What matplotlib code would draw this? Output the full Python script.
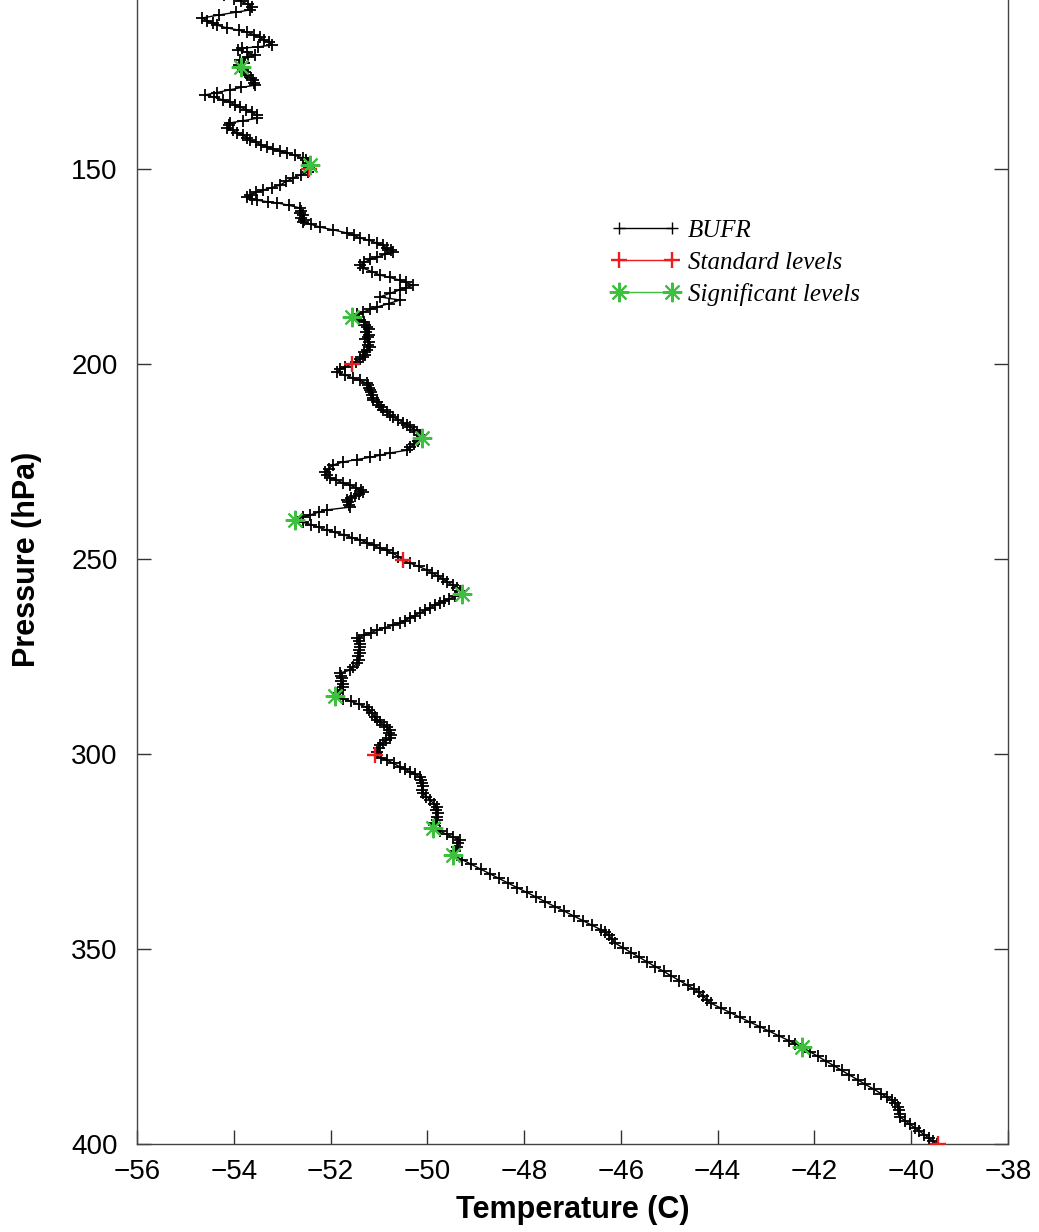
import matplotlib
matplotlib.use("Agg")
import matplotlib.pyplot as plt

# ---------------- data ----------------
bufr_p = [
    105.5, 106.3, 107.0, 107.8, 108.5, 109.2, 109.8, 110.5, 111.3, 112.0,
    112.6, 113.1, 113.8, 114.4, 114.9, 115.6, 116.2, 116.9, 117.5, 118.2,
    118.7, 119.0, 119.5, 120.1, 120.8, 121.4, 122.1, 122.7, 123.3, 123.9,
    124.6, 125.2, 125.9, 126.6, 127.2, 127.9, 128.5, 129.1, 129.7, 130.4,
    131.0, 131.6, 132.3, 132.9, 133.5, 134.1, 134.8, 135.5, 136.2, 137.0,
    137.6, 138.2, 138.8, 139.5, 140.1, 140.8, 141.4, 142.0, 142.6, 143.2,
    143.8, 144.4, 144.9, 145.4, 145.9, 146.5, 147.2, 147.8, 148.4, 149.0,
    149.5, 150.0, 150.8, 151.5, 152.3, 153.2, 154.1, 154.8, 155.4, 156.0,
    156.7, 157.2, 157.6, 158.0, 158.4, 158.7, 159.3, 160.0, 160.7, 161.3,
    161.9, 162.5, 163.0, 163.6, 164.2, 164.9, 165.6, 166.4, 167.0, 167.7,
    168.3, 169.0, 169.6, 170.3, 170.8, 171.3, 171.9, 172.6, 173.2, 173.9,
    174.6, 175.4, 176.3, 177.2, 177.8, 178.5, 179.1, 179.8, 180.4, 181.0,
    181.9, 182.8, 183.6, 184.5, 185.4, 186.0, 186.7, 187.3, 188.0, 188.6,
    189.2, 189.9, 190.5, 191.1, 191.8, 192.5, 193.1, 193.7, 194.4, 195.0,
    195.6, 196.3, 196.9, 197.6, 198.2, 198.8, 199.4, 200.0, 200.7, 201.4,
    202.1, 202.8, 203.6, 204.2, 204.9, 205.5, 206.1, 206.7, 207.3, 208.0,
    208.6, 209.2, 209.8, 210.5, 211.1, 211.8, 212.4, 213.0, 213.6, 214.3,
    215.0, 215.6, 216.2, 216.8, 217.4, 218.2, 219.0, 219.8, 220.5, 221.3,
    222.1, 222.8, 223.4, 223.9, 224.5, 225.1, 225.9, 226.8, 227.7, 228.4,
    229.2, 229.8, 230.5, 231.1, 231.7, 232.3, 232.8, 233.3, 233.9, 234.4,
    234.9, 235.5, 236.1, 236.7, 237.4, 238.0, 238.7, 239.3, 240.0, 240.6,
    241.2, 241.9, 242.6, 243.2, 243.8, 244.5, 245.1, 245.8, 246.5, 247.2,
    247.8, 248.5, 249.4, 250.3, 251.1, 251.9, 252.8, 253.6, 254.4, 255.1,
    255.9, 256.7, 257.4, 258.2, 259.0, 259.6, 260.2, 260.7, 261.3, 261.9,
    262.5, 263.2, 263.8, 264.5, 265.1, 265.8, 266.4, 267.0, 267.6, 268.2,
    268.9, 269.6, 270.3, 271.1, 271.8, 272.6, 273.3, 274.1, 274.9, 275.8,
    276.7, 277.6, 278.5, 279.2, 279.9, 280.6, 281.3, 282.0, 282.8, 283.6,
    284.3, 285.1, 285.8, 286.5, 287.2, 288.0, 288.8, 289.6, 290.4, 291.3,
    291.9, 292.6, 293.2, 293.9, 294.6, 295.2, 295.9, 296.5, 297.1, 297.7,
    298.5, 299.4, 300.3, 301.0, 301.6, 302.4, 303.3, 303.9, 304.6, 305.2,
    305.9, 306.7, 307.5, 308.3, 309.2, 310.0, 310.9, 311.8, 312.7, 313.6,
    314.4, 315.2, 316.1, 316.9, 317.6, 318.3, 319.0, 319.8, 320.6, 321.3,
    322.1, 322.9, 323.8, 324.8, 325.9, 327.1, 328.3, 329.5, 330.7, 331.9,
    333.1, 334.3, 335.5, 336.7, 337.9, 339.1, 340.3, 341.5, 342.7, 343.9,
    345.0, 345.6, 346.5, 347.5, 348.5, 349.7, 350.9, 352.1, 353.3, 354.5,
    355.7, 356.9, 358.1, 359.3, 360.2, 361.0, 362.0, 363.0, 363.9, 365.1,
    366.3, 367.5, 368.7, 369.9, 371.1, 372.3, 373.5, 374.3, 375.1, 376.3,
    377.5, 378.7, 379.9, 381.1, 382.3, 383.5, 384.7, 385.9, 387.1, 388.0,
    388.7, 389.6, 390.5, 391.3, 392.2, 393.1, 394.0, 394.9, 395.8, 396.7,
    397.6, 398.5, 399.3, 400.0,
]
bufr_t = [
    -54.20, -54.00, -53.85, -53.70, -53.62, -53.66, -53.95, -54.30, -54.66, -54.55,
    -54.42, -54.35, -54.15, -53.90, -53.73, -53.58, -53.46, -53.38, -53.28, -53.21,
    -53.50, -53.83, -53.91, -53.72, -53.56, -53.70, -53.87, -53.78, -53.90, -53.85,
    -53.80, -53.76, -53.73, -53.65, -53.60, -53.58, -53.56, -53.85, -54.08, -54.35,
    -54.59, -54.40, -54.22, -54.08, -53.98, -53.87, -53.75, -53.62, -53.52, -53.52,
    -53.80, -54.08, -54.10, -54.14, -54.02, -53.93, -53.80, -53.72, -53.66, -53.54,
    -53.43, -53.31, -53.18, -53.05, -52.90, -52.74, -52.57, -52.50, -52.46, -52.42,
    -52.44, -52.45, -52.47, -52.62, -52.78, -52.92, -53.04, -53.22, -53.40, -53.54,
    -53.66, -53.73, -53.62, -53.52, -53.30, -53.10, -52.86, -52.63, -52.62, -52.63,
    -52.58, -52.62, -52.56, -52.57, -52.40, -52.22, -51.95, -51.66, -51.52, -51.39,
    -51.20, -51.04, -50.92, -50.83, -50.76, -50.71, -50.88, -51.04, -51.18, -51.30,
    -51.39, -51.33, -51.15, -50.98, -50.78, -50.57, -50.44, -50.30, -50.44, -50.57,
    -50.78, -50.98, -50.57, -50.80, -51.04, -51.18, -51.33, -51.45, -51.56, -51.42,
    -51.32, -51.28, -51.25, -51.20, -51.26, -51.21, -51.23, -51.28, -51.20, -51.22,
    -51.18, -51.24, -51.30, -51.28, -51.33, -51.40, -51.48, -51.56, -51.70, -51.80,
    -51.87, -51.70, -51.54, -51.40, -51.25, -51.22, -51.20, -51.18, -51.16, -51.14,
    -51.13, -51.12, -51.05, -51.00, -50.96, -50.92, -50.84, -50.77, -50.71, -50.60,
    -50.50, -50.42, -50.35, -50.27, -50.21, -50.16, -50.11, -50.20, -50.28, -50.35,
    -50.42, -50.77, -50.98, -51.18, -51.46, -51.74, -51.95, -52.04, -52.11, -52.07,
    -52.01, -51.88, -51.74, -51.60, -51.47, -51.38, -51.33, -51.42, -51.50, -51.58,
    -51.66, -51.64, -51.62, -51.60, -52.07, -52.25, -52.42, -52.58, -52.73, -52.57,
    -52.40, -52.24, -52.07, -51.90, -51.73, -51.56, -51.39, -51.25, -51.11, -50.98,
    -50.84, -50.71, -50.60, -50.50, -50.35, -50.18, -50.01, -49.90, -49.78, -49.68,
    -49.59, -49.48, -49.38, -49.32, -49.28, -49.42, -49.55, -49.65, -49.74, -49.85,
    -49.95, -50.05, -50.15, -50.26, -50.36, -50.46, -50.57, -50.72, -50.88, -51.04,
    -51.17, -51.31, -51.45, -51.42, -51.40, -51.39, -51.41, -51.39, -51.43, -51.41,
    -51.45, -51.53, -51.60, -51.80, -51.78, -51.76, -51.78, -51.75, -51.74, -51.80,
    -51.86, -51.91, -51.75, -51.58, -51.42, -51.25, -51.20, -51.14, -51.09, -51.04,
    -50.97, -50.90, -50.83, -50.77, -50.79, -50.76, -50.77, -50.85, -50.92, -50.98,
    -51.01, -51.05, -51.08, -50.95, -50.83, -50.70, -50.57, -50.46, -50.36, -50.25,
    -50.15, -50.13, -50.12, -50.10, -50.11, -50.09, -50.02, -49.94, -49.87, -49.80,
    -49.82, -49.79, -49.81, -49.80, -49.84, -49.86, -49.88, -49.74, -49.60, -49.47,
    -49.33, -49.36, -49.39, -49.43, -49.47, -49.28, -49.09, -48.90, -48.71, -48.52,
    -48.33, -48.14, -47.94, -47.75, -47.56, -47.37, -47.17, -46.98, -46.79, -46.60,
    -46.42, -46.33, -46.25, -46.18, -46.12, -45.95, -45.79, -45.62, -45.46, -45.29,
    -45.12, -44.96, -44.79, -44.62, -44.50, -44.39, -44.31, -44.22, -44.14, -43.94,
    -43.74, -43.54, -43.34, -43.13, -42.93, -42.73, -42.53, -42.40, -42.26, -42.10,
    -41.93, -41.77, -41.60, -41.44, -41.28, -41.11, -40.95, -40.78, -40.62, -40.50,
    -40.40, -40.33, -40.27, -40.26, -40.24, -40.23, -40.13, -40.03, -39.93, -39.83,
    -39.73, -39.63, -39.55, -39.47,
]

std_p = [150.0, 200.0, 250.3, 300.3, 400.0]
std_t = [-52.45, -51.56, -50.50, -51.08, -39.45]

sig_p = [123.9, 149.0, 188.0, 219.0, 240.0, 259.0, 285.1, 319.0, 325.9, 375.1]
sig_t = [-53.85, -52.42, -51.56, -50.11, -52.73, -49.28, -51.91, -49.88, -49.47, -42.26]

x_ticks = [-56, -54, -52, -50, -48, -46, -44, -42, -40, -38]
x_ticklabels = ["\u221256", "\u221254", "\u221252", "\u221250", "\u221248",
                "\u221246", "\u221244", "\u221242", "\u221240", "\u221238"]
y_ticks = [150, 200, 250, 300, 350, 400]

series_labels = ["BUFR", "Standard levels", "Significant levels"]

# ---------------- figure ----------------
fig = plt.figure(figsize=(10.39, 12.32), dpi=100)
ax = fig.add_axes([0.1319, 0.0714, 0.9702 - 0.1319, 1.0 - 0.0714])

ax.plot(bufr_t, bufr_p, color="black", lw=1.0, marker="+", ms=9, mew=1.3,
        zorder=2)
ax.plot(std_t, std_p, color="#ee1c1c", lw=0, marker="+", ms=11, mew=1.7,
        zorder=3)
ax.plot(sig_t, sig_p, color="#3fbf3f", lw=0, marker=(8, 2, 0), ms=14, mew=1.5,
        zorder=4)

# legend proxies (gnuplot-style: line with a point at both ends)
h1, = ax.plot([], [], color="black", lw=1.0, marker="+", ms=9, mew=1.0)
h2, = ax.plot([], [], color="#ee1c1c", lw=1.0, marker="+", ms=11, mew=1.7)
h3, = ax.plot([], [], color="#3fbf3f", lw=1.0, marker=(8, 2, 0), ms=14, mew=1.5)

ax.set_xlim(-56, -38)
ax.set_ylim(400, 106.67)

ax.set_xticks(x_ticks)
ax.set_xticklabels(x_ticklabels)
ax.set_yticks(y_ticks)

for lab in ax.get_xticklabels() + ax.get_yticklabels():
    lab.set_fontfamily("Liberation Sans")
    lab.set_fontsize(20)

ax.tick_params(axis="both", direction="in", length=10, width=1.0, color="#333333")
ax.tick_params(axis="x", pad=11, top=False)
ax.tick_params(axis="y", pad=14, right=True)

for side in ["left", "right", "bottom"]:
    ax.spines[side].set_color("#444444")
    ax.spines[side].set_linewidth(1.0)
ax.spines["top"].set_visible(False)

ax.set_xlabel("Temperature (C)", fontfamily="Liberation Sans", fontweight="bold",
              fontsize=22, labelpad=7)
ax.set_ylabel("Pressure (hPa)", fontfamily="Liberation Sans", fontweight="bold",
              fontsize=22)
ax.yaxis.set_label_coords(-0.109, 0.5114)

leg = ax.legend([h1, h2, h3], series_labels, loc="upper left",
                bbox_to_anchor=(0.5453, 0.808), frameon=False, numpoints=2,
                borderpad=0, borderaxespad=0,
                handlelength=2.7, handletextpad=0.35, labelspacing=0.37,
                prop={"family": "Liberation Serif", "style": "italic", "size": 18})

fig.savefig("out.png", dpi=100)
